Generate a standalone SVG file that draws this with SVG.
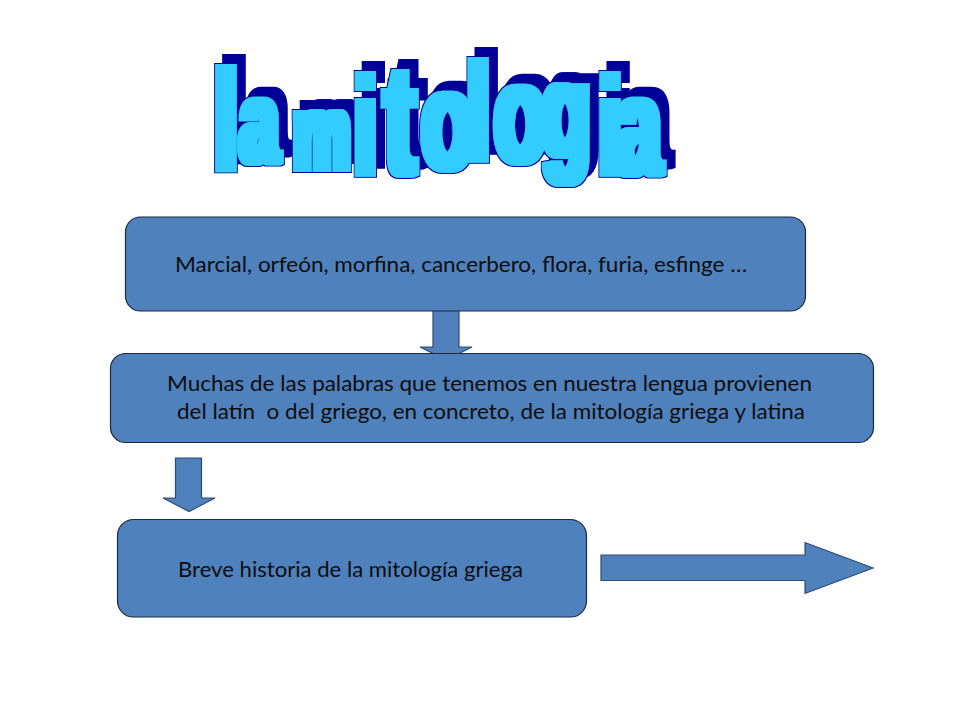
<svg xmlns="http://www.w3.org/2000/svg" width="960" height="720" viewBox="0 0 960 720">
<defs>
<style>
.box{fill:#4F81BD;stroke:#1b2a40;stroke-width:1.2}
.arw{fill:#4F81BD;stroke:#2f4b70;stroke-width:1.2}
.lbl{font-family:Lato,"Liberation Sans",sans-serif;font-size:21px;fill:#0d0d0d}
.wa{font-family:"Liberation Sans",Arial,sans-serif;font-weight:bold;fill:#33CCFF}
</style>
<filter id="wordart" filterUnits="userSpaceOnUse" x="150" y="20" width="600" height="200">
<feMorphology in="SourceAlpha" operator="dilate" radius="5 3" result="fatA"/>
<feMorphology in="SourceAlpha" operator="dilate" radius="6 4" result="outA"/>
<feFlood flood-color="#000099" result="dk"/>
<feComposite in="dk" in2="outA" operator="in" result="outline"/>
<feOffset in="outline" dx="8" dy="-9" result="shadow"/>
<feFlood flood-color="#33CCFF" result="lt"/>
<feComposite in="lt" in2="fatA" operator="in" result="fat"/>
<feMerge><feMergeNode in="shadow"/><feMergeNode in="outline"/><feMergeNode in="fat"/></feMerge>
</filter>
</defs>
<rect width="960" height="720" fill="#ffffff"/>
<g id="title" filter="url(#wordart)">
<text class="wa" transform="scale(0.6,1)"><tspan x="357" y="169" font-size="141">l</tspan><tspan x="400" y="162" font-size="115">a </tspan><tspan x="489" y="169" font-size="106">m</tspan><tspan x="590" y="174" font-size="137">i</tspan><tspan x="641" y="174" font-size="155">t</tspan><tspan x="703" y="169" font-size="140">o</tspan><tspan x="778" y="160" font-size="138">l</tspan><tspan x="824" y="162" font-size="140">o</tspan><tspan x="903" y="156" font-size="132">g</tspan><tspan x="998" y="174" font-size="137">i</tspan><tspan x="1025" y="174" font-size="138">a</tspan></text>
</g>
<g id="connectors">
<polygon class="arw" points="433,307 459,307 459,347 472,347 446,360 420,347 433,347"/>
<polygon class="arw" points="175.5,458 201.5,458 201.5,498 215,498 189,511.5 163,498 175.5,498"/>
<polygon class="arw" points="601,555 805,555 805,542.5 873,568 805,593.5 805,580.5 601,580.5"/>
</g>
<g id="node-ejemplos">
<rect class="box" x="125.5" y="217" width="680" height="94" rx="15"/>
<text class="lbl" x="175" y="271.5" textLength="572" lengthAdjust="spacingAndGlyphs">Marcial, orfeón, morfina, cancerbero, flora, furia, esfinge …</text>
</g>
<g id="node-origen">
<rect class="box" x="110.5" y="353.5" width="763" height="89" rx="15"/>
<text class="lbl" x="167" y="391" textLength="645" lengthAdjust="spacingAndGlyphs">Muchas de las palabras que tenemos en nuestra lengua provienen</text>
<text class="lbl" xml:space="preserve" x="177" y="418.5" textLength="628" lengthAdjust="spacingAndGlyphs">del latín  o del griego, en concreto, de la mitología griega y latina</text>
</g>
<g id="node-historia">
<rect class="box" x="117.5" y="519.5" width="469" height="97.5" rx="16"/>
<text class="lbl" x="178" y="576.5" textLength="345" lengthAdjust="spacingAndGlyphs">Breve historia de la mitología griega</text>
</g>
</svg>
